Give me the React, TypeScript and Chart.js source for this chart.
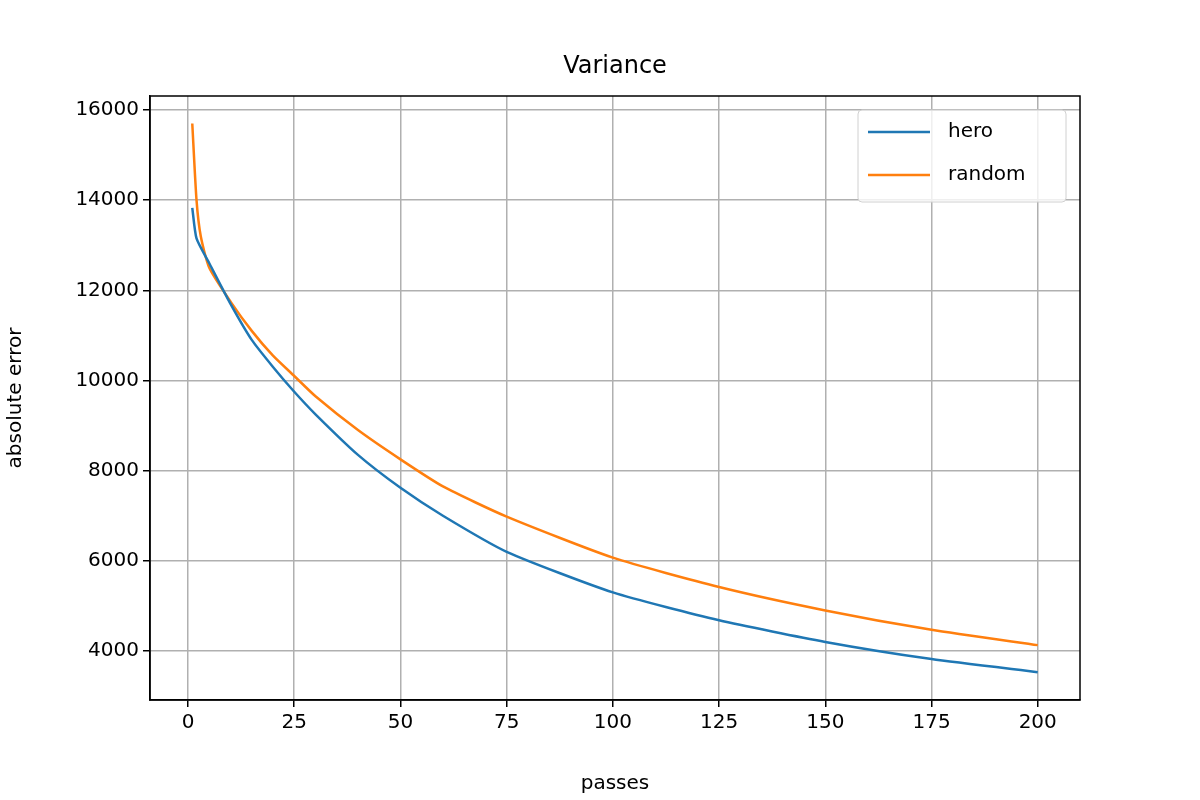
import { useEffect, useRef } from 'react';
import { Chart, registerables } from 'chart.js';

Chart.register(...registerables);

const heroX = [1, 2, 5, 10, 15, 20, 25, 30, 40, 50, 60, 75, 100, 125, 150, 175, 200];
const heroY = [13830, 13150, 12600, 11700, 10900, 10300, 9750, 9250, 8350, 7620, 7000, 6200, 5300, 4680, 4200, 3820, 3530];
const randomX = [1, 2, 3, 5, 10, 15, 20, 25, 30, 40, 50, 60, 75, 100, 125, 150, 175, 200];
const randomY = [15700, 14000, 13200, 12500, 11750, 11100, 10550, 10100, 9650, 8900, 8250, 7650, 6980, 6070, 5420, 4900, 4470, 4130];
const seriesNames = ['hero', 'random'];
const seriesColors = ['#1f77b4', '#ff7f0e'];

const FONT = 'DejaVu Sans';

export default function App() {
  const canvasRef = useRef<HTMLCanvasElement | null>(null);

  useEffect(() => {
    const canvas = canvasRef.current;
    if (!canvas) return;

    // frame, title and legend, drawn like matplotlib does
    const decor = {
      id: 'decor',
      afterDraw(chart: any) {
        const { ctx, chartArea: a } = chart;
        ctx.save();
        ctx.strokeStyle = 'black';
        ctx.lineWidth = 1.5;
        ctx.strokeRect(a.left, a.top, a.right - a.left, a.bottom - a.top);
        ctx.fillStyle = 'black';
        ctx.font = `24px "${FONT}"`;
        ctx.textAlign = 'center';
        ctx.textBaseline = 'middle';
        ctx.fillText('Variance', (a.left + a.right) / 2, 67);
        // legend
        const bx = 858, by = 110, bw = 208, bh = 92;
        ctx.fillStyle = 'rgba(255,255,255,0.8)';
        ctx.strokeStyle = '#d0d0d0';
        ctx.lineWidth = 1;
        ctx.beginPath();
        ctx.roundRect(bx, by, bw, bh, 4);
        ctx.fill();
        ctx.stroke();
        ctx.font = `20px "${FONT}"`;
        ctx.textAlign = 'left';
        seriesNames.forEach((name, i) => {
          const y = by + 22 + i * 43;
          ctx.strokeStyle = seriesColors[i];
          ctx.lineWidth = 2.5;
          ctx.beginPath();
          ctx.moveTo(868, y);
          ctx.lineTo(930, y);
          ctx.stroke();
          ctx.fillStyle = 'black';
          ctx.fillText(name, 948, y);
        });
        ctx.restore();
      },
    };

    const chart = new Chart(canvas, {
      type: 'line',
      data: {
        datasets: [
          {
            label: seriesNames[0],
            data: heroX.map((x, i) => ({ x, y: heroY[i] })),
            borderColor: seriesColors[0],
            borderWidth: 2.5,
            pointRadius: 0,
            tension: 0.2,
          },
          {
            label: seriesNames[1],
            data: randomX.map((x, i) => ({ x, y: randomY[i] })),
            borderColor: seriesColors[1],
            borderWidth: 2.5,
            pointRadius: 0,
            tension: 0.2,
          },
        ],
      },
      options: {
        animation: false,
        responsive: false,
        layout: { padding: { left: 0, right: 120, top: 96, bottom: 0 } },
        plugins: { legend: { display: false }, tooltip: { enabled: false } },
        scales: {
          x: {
            type: 'linear',
            min: -8.95,
            max: 209.95,
            afterFit: (s: any) => { s.height = 100; },
            afterBuildTicks: (s: any) => {
              s.ticks = [0, 25, 50, 75, 100, 125, 150, 175, 200].map(v => ({ value: v }));
            },
            grid: { color: '#b0b0b0', lineWidth: 1.5, tickLength: 7, tickColor: 'black' },
            border: { color: 'black', width: 1.5 },
            ticks: { color: 'black', font: { family: FONT, size: 20 }, padding: 4, maxRotation: 0 },
            title: { display: true, text: 'passes', color: 'black', font: { family: FONT, size: 20 }, padding: { top: 4 } },
          },
          y: {
            min: 2913,
            max: 16310,
            afterFit: (s: any) => { s.width = 150; },
            afterBuildTicks: (s: any) => {
              s.ticks = [4000, 6000, 8000, 10000, 12000, 14000, 16000].map(v => ({ value: v }));
            },
            grid: { color: '#b0b0b0', lineWidth: 1.5, tickLength: 7, tickColor: 'black' },
            border: { color: 'black', width: 1.5 },
            ticks: { color: 'black', font: { family: FONT, size: 20 }, padding: 4, callback: (v: any) => String(v) },
            title: { display: true, text: 'absolute error', color: 'black', font: { family: FONT, size: 20 }, padding: { bottom: 2 } },
          },
        },
      },
      plugins: [decor],
    });

    return () => chart.destroy();
  }, []);

  return (
    <div style={{ position: 'fixed', left: 0, top: 0, width: 1200, height: 800, background: 'white' }}>
      <canvas ref={canvasRef} width={1200} height={800} style={{ width: 1200, height: 800 }} />
    </div>
  );
}
